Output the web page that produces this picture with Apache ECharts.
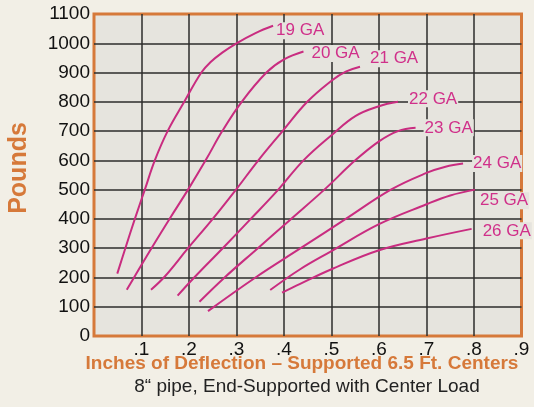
<!DOCTYPE html>
<html>
<head>
<meta charset="utf-8">
<script src="https://cdn.jsdelivr.net/npm/echarts@6/dist/echarts.min.js"></script>
<style>
  html, body { margin: 0; padding: 0; background: #f2efe6; }
  #chart { width: 534px; height: 407px; }
</style>
</head>
<body>
<div id="chart"></div>
<script>
// deflection (inches) vs load (pounds)
const ga19 = [[0.049, 213], [0.066, 300], [0.086, 400], [0.107, 500], [0.128, 600], [0.155, 700], [0.19, 800], [0.226, 900], [0.245, 935], [0.27, 968], [0.3, 1000], [0.34, 1035], [0.377, 1060]]
const ga20 = [[0.069, 158], [0.088, 210], [0.121, 300], [0.159, 400], [0.198, 500], [0.235, 600], [0.27, 700], [0.311, 800], [0.363, 900], [0.4, 945], [0.441, 972]]
const ga21 = [[0.12, 158], [0.15, 205], [0.198, 300], [0.25, 400], [0.299, 500], [0.346, 600], [0.397, 700], [0.449, 800], [0.5, 872], [0.53, 903], [0.56, 920]]
const ga22 = [[0.176, 138], [0.211, 200], [0.271, 300], [0.33, 400], [0.388, 500], [0.441, 600], [0.5, 686], [0.551, 752], [0.6, 785], [0.64, 800]]
const ga23 = [[0.222, 117], [0.275, 200], [0.345, 300], [0.415, 400], [0.485, 500], [0.55, 600], [0.6, 665], [0.64, 700], [0.677, 711]]
const ga24 = [[0.24, 85], [0.34, 200], [0.435, 300], [0.53, 400], [0.625, 500], [0.7, 557], [0.74, 578], [0.777, 589]]
const ga25 = [[0.371, 157], [0.434, 228], [0.5, 290], [0.6, 382], [0.7, 450], [0.75, 480], [0.802, 500]]
const ga26 = [[0.396, 148], [0.434, 178], [0.5, 228], [0.6, 293], [0.7, 333], [0.795, 366]]

const gaugeNames = ['19 GA', '20 GA', '21 GA', '22 GA', '23 GA', '24 GA', '25 GA', '26 GA']
const gaugeData = [ga19, ga20, ga21, ga22, ga23, ga24, ga25, ga26]
// where each curve's label sits relative to the curve end
const labelOffsets = [[2, 5], [7, 2], [9, -8], [10, -3], [8, 0], [9, 0], [4, 11], [10, 2]]

const plotBg = '#e6e4de'
const lineColor = '#c92c80'
const gridLine = { color: '#2d2d2b', width: 1.5 }

const chart = echarts.init(document.getElementById('chart'))
chart.setOption({
  animation: false,
  backgroundColor: '#f2efe6',
  textStyle: { fontFamily: 'Liberation Sans, Arial, sans-serif' },
  grid: {
    left: 94,
    right: 12.5,
    top: 14,
    bottom: 71,
    show: true,
    backgroundColor: plotBg,
    borderColor: '#d6793a',
    borderWidth: 3
  },
  xAxis: {
    type: 'value',
    min: 0,
    max: 0.9,
    interval: 0.1,
    axisLine: { show: false },
    axisTick: { show: false },
    axisLabel: {
      color: '#111',
      fontSize: 19,
      margin: 4,
      formatter: v => (v === 0 ? '' : '.' + Math.round(v * 10))
    },
    splitLine: { showMinLine: false, showMaxLine: false, lineStyle: gridLine }
  },
  yAxis: {
    type: 'value',
    min: 0,
    max: 1100,
    interval: 100,
    axisLine: { show: false },
    axisTick: { show: false },
    axisLabel: { color: '#111', fontSize: 19, margin: 4, formatter: v => String(v) },
    splitLine: { showMinLine: false, showMaxLine: false, lineStyle: gridLine }
  },
  graphic: [
    {
      type: 'text',
      x: 19,
      y: 168,
      rotation: Math.PI / 2,
      style: {
        text: 'Pounds',
        fill: '#d6793a',
        font: 'bold 25px Liberation Sans, Arial, sans-serif',
        textAlign: 'center',
        textVerticalAlign: 'middle'
      }
    },
    {
      type: 'text',
      x: 302,
      y: 364,
      style: {
        text: 'Inches of Deflection \u2013 Supported 6.5 Ft. Centers',
        fill: '#d6793a',
        font: 'bold 19px Liberation Sans, Arial, sans-serif',
        textAlign: 'center',
        textVerticalAlign: 'middle'
      }
    },
    {
      type: 'text',
      x: 307,
      y: 387,
      style: {
        text: '8\u201c pipe, End-Supported with Center Load',
        fill: '#222',
        font: '19px Liberation Sans, Arial, sans-serif',
        textAlign: 'center',
        textVerticalAlign: 'middle'
      }
    }
  ],
  series: gaugeData.map((d, i) => ({
    name: gaugeNames[i],
    type: 'line',
    data: d,
    smooth: 0.4,
    showSymbol: false,
    lineStyle: { color: lineColor, width: 2 },
    endLabel: {
      show: true,
      formatter: '{a}',
      color: '#d0308a',
      fontSize: 17,
      distance: 0,
      offset: labelOffsets[i],
      backgroundColor: plotBg,
      padding: [0, 1]
    }
  }))
})
</script>
</body>
</html>
